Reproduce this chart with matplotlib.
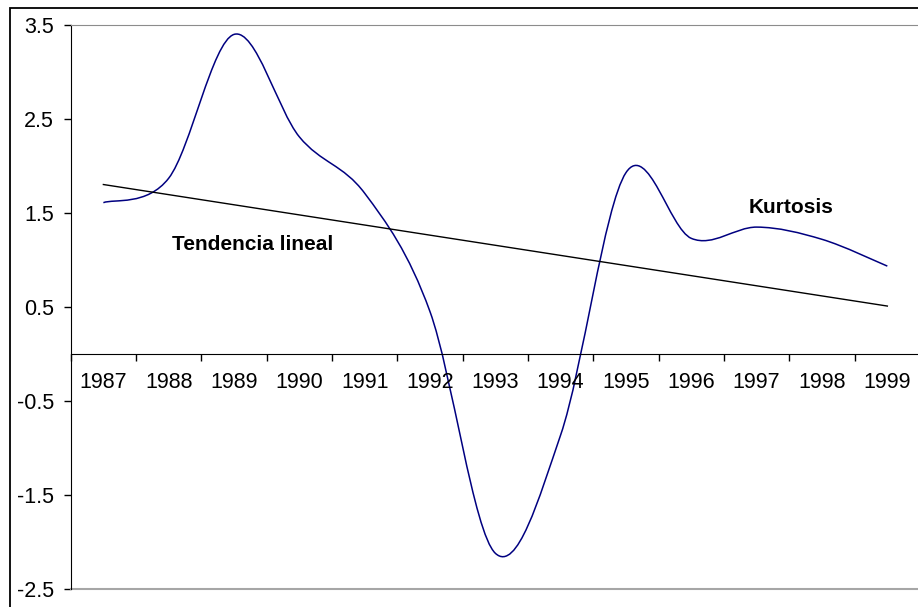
import numpy as np
import matplotlib
matplotlib.use("Agg")
import matplotlib.pyplot as plt
from matplotlib.path import Path
from matplotlib.patches import PathPatch, Rectangle

# Data
years = ["1987", "1988", "1989", "1990", "1991", "1992", "1993",
         "1994", "1995", "1996", "1997", "1998", "1999"]
kurtosis = [1.61, 1.87, 3.40, 2.31, 1.71, 0.45, -2.12,
            -0.86, 1.93, 1.23, 1.35, 1.22, 0.935]
y_ticks = [-2.5, -1.5, -0.5, 0.5, 1.5, 2.5, 3.5]

plt.rcParams["font.family"] = ["Liberation Sans", "DejaVu Sans"]

x = np.arange(1, len(years) + 1)
y = np.array(kurtosis)


def smooth_path(xs, ys):
    """Excel-like smoothed line: Catmull-Rom segments drawn as cubic Beziers."""
    n = len(xs)
    verts = [(xs[0], ys[0])]
    codes = [Path.MOVETO]
    for i in range(n - 1):
        i0 = max(i - 1, 0)
        i3 = min(i + 2, n - 1)
        c1 = (xs[i] + (xs[i + 1] - xs[i0]) / 6, ys[i] + (ys[i + 1] - ys[i0]) / 6)
        c2 = (xs[i + 1] - (xs[i3] - xs[i]) / 6, ys[i + 1] - (ys[i3] - ys[i]) / 6)
        verts += [c1, c2, (xs[i + 1], ys[i + 1])]
        codes += [Path.CURVE4] * 3
    return Path(verts, codes)


# Figure and plot area
fig = plt.figure(figsize=(9.18, 6.07), dpi=100)
ax = fig.add_axes([70.7 / 918, 1 - 589 / 607, (920 - 70.7) / 918, (589 - 25) / 607])

# Outer chart border (cut off on right and bottom like the original)
fig.add_artist(Rectangle((10 / 918, -0.1), 2, 1 - 8 / 607 + 0.1,
                         transform=fig.transFigure, fill=False,
                         edgecolor="black", linewidth=1.3))

# Kurtosis series, smoothed
ax.add_patch(PathPatch(smooth_path(x, y), facecolor="none",
                       edgecolor="#000080", linewidth=1.1))

# Linear trend line
slope, intercept = np.polyfit(x, y, 1)
ax.plot(x, slope * x + intercept, color="black", linewidth=1.0)

ax.set_xlim(0.5, len(years) + 0.5)
ax.set_ylim(-2.5, 3.5)

# Axes styling
ax.spines["right"].set_visible(False)
ax.spines["top"].set_color("#8c8c8c")
ax.spines["left"].set_color("black")
ax.spines["bottom"].set_position(("data", 0))
ax.spines["bottom"].set_color("black")
ax.axhline(-2.5, color="#a6a6a6", linewidth=1.5, clip_on=False)

ax.set_yticks(y_ticks)
ax.set_yticklabels([str(v) for v in y_ticks])
ax.tick_params(axis="y", direction="out", length=5, width=1, pad=7, labelsize=15.5)

ax.set_xticks(np.arange(0.5, len(years) + 1, 1))
ax.set_xticklabels([])
ax.set_xticks(x, minor=True)
ax.set_xticklabels(years, minor=True)
ax.tick_params(axis="x", which="major", direction="out", length=5, width=1)
ax.tick_params(axis="x", which="minor", length=0, pad=13, labelsize=15.5)

# Annotations
ax.text(2.05, 1.105, "Tendencia lineal", fontsize=15, fontweight="bold",
        va="baseline", ha="left")
ax.text(10.88, 1.497, "Kurtosis", fontsize=15, fontweight="bold",
        va="baseline", ha="left")

plt.savefig("out.png", dpi=100)
